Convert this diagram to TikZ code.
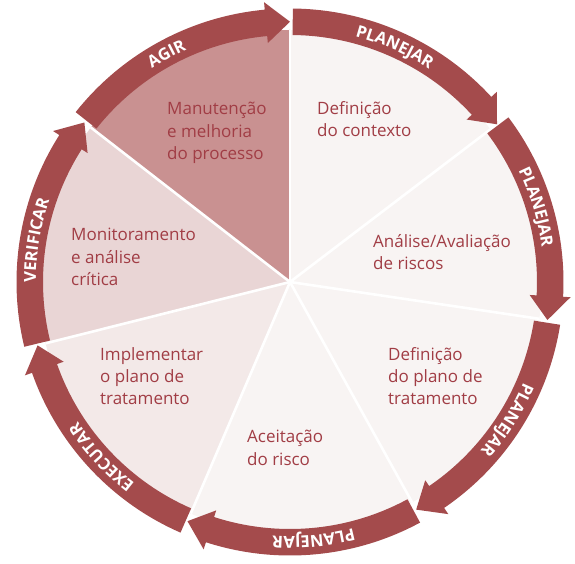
\documentclass[tikz,border=0pt]{standalone}
\usepackage{fontspec}
\setmainfont{Open Sans}
\usetikzlibrary{decorations.text}

\definecolor{bandred}{RGB}{164,75,76}
\definecolor{labelred}{RGB}{161,61,69}
\definecolor{agirfill}{RGB}{201,145,145}
\definecolor{verifill}{RGB}{233,213,213}
\definecolor{execfill}{RGB}{243,233,232}
\definecolor{planfill}{RGB}{248,244,243}

\tikzset{
    steplabel/.style={text=labelred, font=\fontsize{17}{22.5}\selectfont, align=left, anchor=base west, inner sep=0pt},
    sepline/.style={white, line width=2.6pt},
}

\newcommand{\pdcasector}[3]{
    \fill[#3] (0,0) -- (#1:252pt) arc[start angle=#1, end angle=#2, radius=252pt] -- cycle;
}
\newcommand{\pdcaarrow}[3]{
    \fill[bandred] (#1:273.5pt) arc[start angle=#1, end angle=#2+5.3, radius=273.5pt]
        -- (#2+5.3:281pt) -- (#2:260.25pt) -- (#2+5.3:240pt) -- (#2+5.3:247pt)
        arc[start angle=#2+5.3, end angle=#1, radius=247pt] -- cycle;
    \path[decorate, decoration={text along path, text align=center, text color=white,
        text={|\bfseries\fontsize{16.5}{17}\selectfont|#3}}]
        (#1:254.2pt) arc[start angle=#1, end angle=#2+5.3, radius=254.2pt];
}

\begin{document}
\begin{tikzpicture}[x=1pt, y=1pt]
    \useasboundingbox (-290,-282) rectangle (285,282);

    \pdcasector{90}{37.3}{planfill}
    \pdcasector{37.3}{-8.4}{planfill}
    \pdcasector{-8.4}{-61}{planfill}
    \pdcasector{-61}{-113.2}{planfill}
    \pdcasector{-113.2}{-165.9}{execfill}
    \pdcasector{194.1}{142.2}{verifill}
    \pdcasector{142.2}{90}{agirfill}

    \coordinate (c) at (0,0);
    \foreach \a in {90,37.3,-8.4,-61,-113.2,-165.9,142.2}
        \draw[sepline] (c) -- (\a:252pt);

    \pdcaarrow{89.4}{37.3}{PLANEJAR}
    \pdcaarrow{37.0}{-8.4}{PLANEJAR}
    \pdcaarrow{-9.0}{-61}{PLANEJAR}
    \pdcaarrow{-61.6}{-113.2}{PLANEJAR}
    \pdcaarrow{-113.6}{-165.9}{EXECUTAR}
    \pdcaarrow{193.7}{142.2}{VERIFICAR}
    \pdcaarrow{141.6}{90}{AGIR}

    \node[steplabel] (manut) at (-123,122) {Manutenção\\e melhoria\\do processo};
    \node[steplabel] (contexto) at (27,145) {Definição\\do contexto};
    \node[steplabel] (monit) at (-219,-4) {Monitoramento\\e análise\\crítica};
    \node[steplabel] (analise) at (83,12) {Análise/Avaliação\\de riscos};
    \node[steplabel] (implem) at (-190,-123) {Implementar\\o plano de\\tratamento};
    \node[steplabel] (plano) at (98,-123) {Definição\\do plano de\\tratamento};
    \node[steplabel] (aceita) at (-43,-183) {Aceitação\\do risco};
\end{tikzpicture}
\end{document}
